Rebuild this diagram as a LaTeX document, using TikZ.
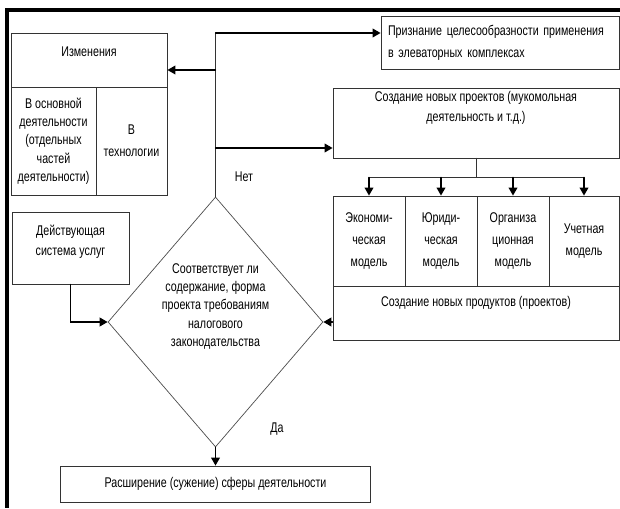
\documentclass[tikz,border=0pt]{standalone}
\usepackage{fontspec}
\setmainfont{Liberation Sans}[FakeStretch=0.76]
\usetikzlibrary{arrows.meta,shapes.geometric}

\begin{document}
\begin{tikzpicture}[>={Triangle[length=2mm,width=2.2mm]},font=\fontsize{10}{13}\selectfont,line cap=round,
  box/.style={draw=black!80,line width=0.6pt,rectangle,inner sep=0pt,align=center},
  lbl/.style={inner sep=0pt,align=center},
  conn/.style={->,line width=0.9pt},
  thin/.style={line width=0.6pt,black!80}]
\useasboundingbox (0,0) rectangle (15.5,12.7);
\draw[line width=0.1cm,line cap=butt] (15.5,12.45) -- (0.175,12.45) -- (0.175,0);
\node[box,minimum width=3.9cm,minimum height=1.35cm] (izm) at (2.225,11.2) {};
\node[lbl] (izmt) at (2.225,11.4) {Изменения};
\node[box,minimum width=2.125cm,minimum height=2.7cm] (izma) at (1.3375,9.175) {В основной\\деятельности\\(отдельных\\частей\\деятельности)};
\node[box,minimum width=1.775cm,minimum height=2.7cm,font=\fontsize{10}{15.5}\selectfont] (izmb) at (3.2875,9.175) {В\\технологии};
\node[box,minimum width=5.95cm,minimum height=1.325cm,text width=5.6cm,align=left,font=\fontsize{10}{15.5}\selectfont] (priz) at (12.5,11.6375) {Признание целесообразности применения\\в элеваторных комплексах};
\node[box,minimum width=7.15cm,minimum height=1.75cm] (proj) at (11.9,9.625) {};
\node[lbl,font=\fontsize{10}{14}\selectfont] (projt) at (11.9,10.0) {Создание новых проектов (мукомольная\\деятельность и т.д.)};
\node[box,minimum width=1.8cm,minimum height=2.25cm,font=\fontsize{10}{15.5}\selectfont] (m1) at (9.225,6.675) {Экономи-\\ческая\\модель};
\node[box,minimum width=1.8cm,minimum height=2.25cm,font=\fontsize{10}{15.5}\selectfont] (m2) at (11.025,6.675) {Юриди-\\ческая\\модель};
\node[box,minimum width=1.8cm,minimum height=2.25cm,font=\fontsize{10}{15.5}\selectfont] (m3) at (12.825,6.675) {Организа\\ционная\\модель};
\node[box,minimum width=1.75cm,minimum height=2.25cm,font=\fontsize{10}{15.5}\selectfont] (m4) at (14.6,6.675) {Учетная\\модель};
\node[box,minimum width=7.15cm,minimum height=1.35cm] (prod) at (11.9,4.875) {};
\node[lbl] (prodt) at (11.9,5.125) {Создание новых продуктов (проектов)};
\node[box,minimum width=2.925cm,minimum height=1.8cm] (deist) at (1.7625,6.5) {};
\node[lbl,font=\fontsize{10}{14}\selectfont] (deistt) at (1.7625,6.65) {Действующая\\система услуг};
\node[draw=black!70,line width=0.5pt,diamond,minimum width=5.375cm,minimum height=6.25cm,inner sep=0pt] (chk) at (5.3875,4.65) {};
\node[lbl] (chkt) at (5.3875,5.04) {Соответствует ли\\содержание, форма\\проекта требованиям\\налогового\\законодательства};
\node[box,minimum width=7.75cm,minimum height=0.9cm] (ext) at (5.3875,0.6) {Расширение (сужение) сферы деятельности};
\node[lbl] (net) at (6.1,8.275) {Нет};
\node[lbl] (da) at (6.925,1.975) {Да};
\coordinate (top) at (5.3875,11.875);
\coordinate (b1) at (5.3875,10.95);
\coordinate (b2) at (5.3875,9.0);
\coordinate (split) at ([yshift=-0.475cm]proj.south);
\draw[thin] (chk.north) -- (top);
\draw[conn] (top) -- (top -| priz.west);
\draw[conn] (b1) -- (b1 -| izm.east);
\draw[conn] (b2) -- (b2 -| proj.west);
\draw[thin] (proj.south) -- (split);
\draw[thin] (split -| m1.north) -- (split -| m4.north);
\foreach \m in {m1,m2,m3,m4} \draw[conn] (split -| \m.north) -- (\m.north);
\draw[conn] (deist.south) |- (chk.west);
\draw[conn] (chk.east -| prod.west) -- (chk.east);
\draw[conn] (chk.south) -- (ext.north);
\end{tikzpicture}
\end{document}
